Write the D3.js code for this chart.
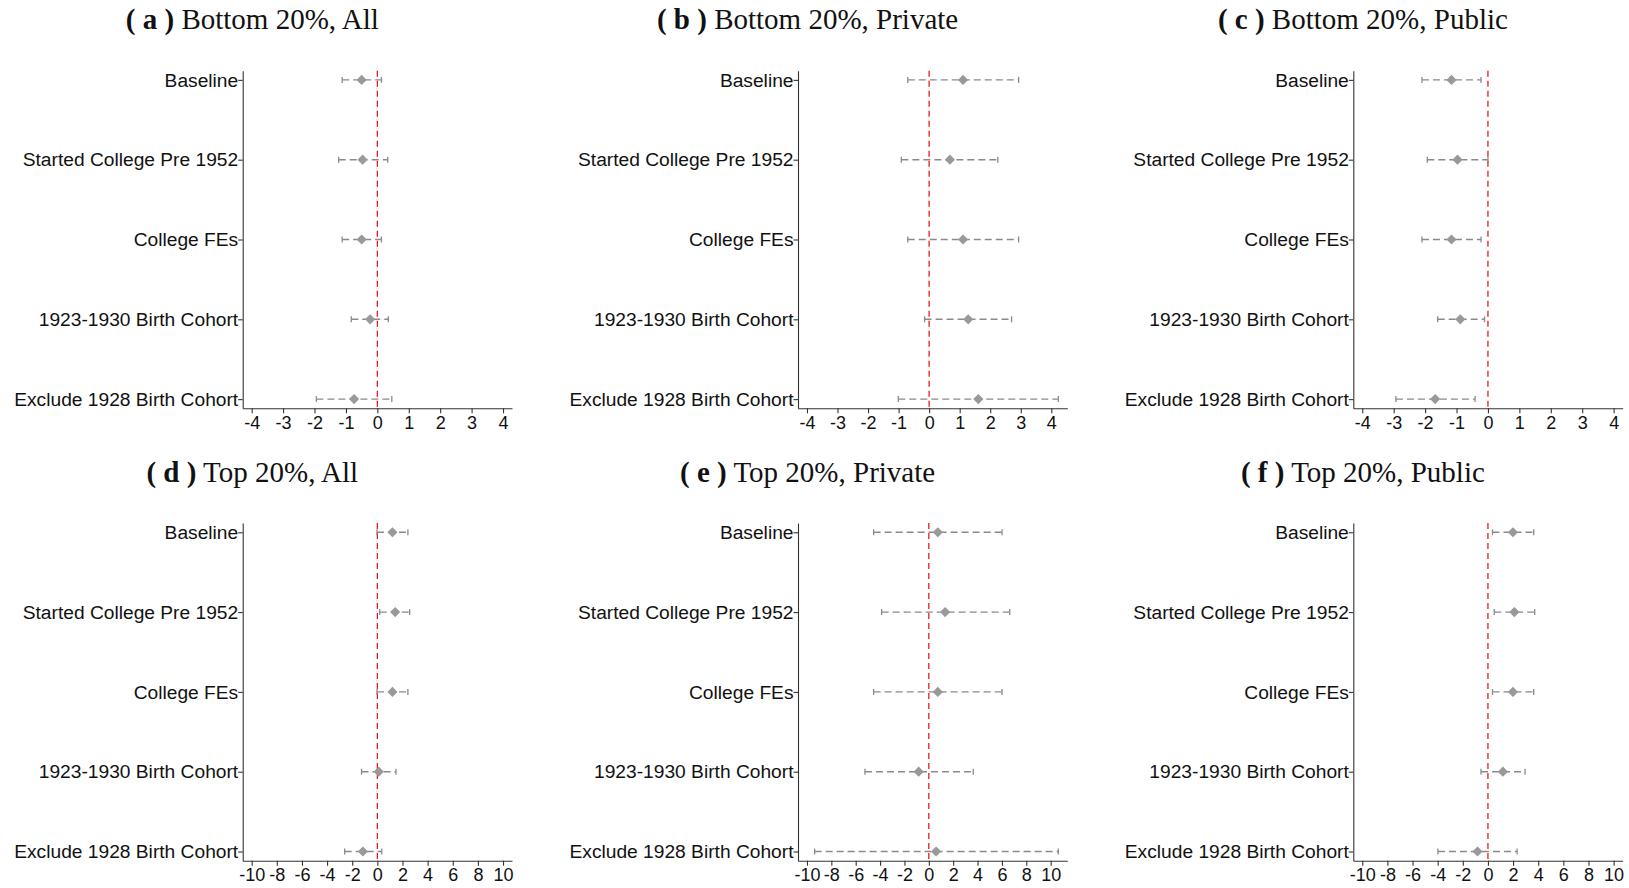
<!DOCTYPE html>
<html>
<head>
<meta charset="utf-8">
<script src="https://cdn.jsdelivr.net/npm/d3@7"></script>
<style>
  html, body { margin: 0; padding: 0; background: #fff; }
  svg { display: block; }
</style>
</head>
<body>
<svg id="chart" width="1629" height="888"></svg>
<script>
// Specifications, listed top to bottom on every panel
const categories = [
  "Baseline",
  "Started College Pre 1952",
  "College FEs",
  "1923-1930 Birth Cohort",
  "Exclude 1928 Birth Cohort"
];

// Panel headings
const panelLetters = ["a", "b", "c", "d", "e", "f"];
const panelTitles = [
  "Bottom 20%, All", "Bottom 20%, Private", "Bottom 20%, Public",
  "Top 20%, All", "Top 20%, Private", "Top 20%, Public"
];

// Point estimates and 95% confidence bounds, one array per panel
const estA = [-0.50, -0.47, -0.50, -0.23, -0.74];
const loA  = [-1.12, -1.23, -1.12, -0.83, -1.94];
const hiA  = [ 0.13,  0.33,  0.13,  0.35,  0.46];

const estB = [ 1.11,  0.68,  1.11,  1.28,  1.61];
const loB  = [-0.70, -0.91, -0.70, -0.15, -1.01];
const hiB  = [ 2.93,  2.25,  2.93,  2.70,  4.23];

const estC = [-1.16, -0.97, -1.16, -0.88, -1.68];
const loC  = [-2.10, -1.93, -2.10, -1.60, -2.93];
const hiC  = [-0.22,  0.00, -0.22, -0.11, -0.41];

const estD = [ 1.20,  1.42,  1.20,  0.11, -1.15];
const loD  = [-0.03,  0.19, -0.03, -1.26, -2.60];
const hiD  = [ 2.43,  2.57,  2.43,  1.48,  0.35];

const estE = [ 0.74,  1.34,  0.74, -0.83,  0.60];
const loE  = [-4.53, -3.87, -4.53, -5.24, -9.37];
const hiE  = [ 6.01,  6.64,  6.01,  3.65, 10.63];

const estF = [ 1.99,  2.10,  1.99,  1.19, -0.83];
const loF  = [ 0.36,  0.50,  0.36, -0.55, -3.98];
const hiF  = [ 3.64,  3.72,  3.64,  2.95,  2.32];

// x-axis tick labels for each row of panels
const ticksBottom20 = [-4, -3, -2, -1, 0, 1, 2, 3, 4];
const ticksTop20 = [-10, -8, -6, -4, -2, 0, 2, 4, 6, 8, 10];

const panels = [
  { est: estA, lo: loA, hi: hiA, ticks: ticksBottom20 },
  { est: estB, lo: loB, hi: hiB, ticks: ticksBottom20 },
  { est: estC, lo: loC, hi: hiC, ticks: ticksBottom20 },
  { est: estD, lo: loD, hi: hiD, ticks: ticksTop20 },
  { est: estE, lo: loE, hi: hiE, ticks: ticksTop20 },
  { est: estF, lo: loF, hi: hiF, ticks: ticksTop20 }
];

// Layout
const colStep = 555.3, rowStep = 452.4;
const plotLeft0 = 242.7, plotW = 269.3;
const plotTop0 = 70.7, plotH = 337.6;
const titleDx = 252.3, titleY0 = 29.3;

const axisColor = "#333";
const ciColor = "#8a8a8a";
const markColor = "#999999";
const refColor = "#f01818";
const labelFont = "'Liberation Sans', Arial, Helvetica, sans-serif";
const titleFont = "'Liberation Serif', 'Times New Roman', Times, serif";

const svg = d3.select("#chart");

panels.forEach((p, i) => {
  const col = i % 3, row = Math.floor(i / 3);
  const left = plotLeft0 + col * colStep;
  const top = plotTop0 + row * rowStep;
  const bottom = top + plotH;

  // axis range: nominal ticks extended to the data, with a small margin
  const tMin = d3.min(p.ticks), tMax = d3.max(p.ticks);
  const dMin = Math.min(tMin, d3.min(p.lo));
  const dMax = Math.max(tMax, d3.max(p.hi));
  const pad = (dMax - dMin) * 0.0357;
  const x = d3.scaleLinear().domain([dMin - pad, dMax + pad]).range([left, left + plotW]);
  const y = d3.scalePoint().domain(categories).range([top, bottom]).padding(0.115);

  const g = svg.append("g");

  // Title
  const title = g.append("text")
    .attr("x", col * colStep + titleDx)
    .attr("y", titleY0 + row * rowStep)
    .attr("text-anchor", "middle")
    .style("font-family", titleFont)
    .style("font-size", "29px")
    .attr("fill", "#111");
  title.append("tspan").style("font-weight", "bold").text(`( ${panelLetters[i]} )`);
  title.append("tspan").text(" " + panelTitles[i]);

  // x axis
  const xAxis = g.append("g")
    .attr("transform", `translate(0,${bottom})`)
    .call(d3.axisBottom(x).tickValues(p.ticks).tickSize(5).tickSizeOuter(0)
      .tickPadding(3).tickFormat(d => String(d)));
  xAxis.select(".domain").attr("stroke", axisColor).attr("stroke-width", 1.1);
  xAxis.selectAll(".tick line").attr("stroke", axisColor).attr("stroke-width", 1.1);
  xAxis.selectAll(".tick text")
    .style("font-family", labelFont).style("font-size", "18px").attr("fill", "#111");

  // y axis with specification labels
  const yAxis = g.append("g")
    .attr("transform", `translate(${left},0)`)
    .call(d3.axisLeft(y).tickSize(4.5).tickSizeOuter(0).tickPadding(0));
  yAxis.select(".domain").attr("stroke", axisColor).attr("stroke-width", 1.1);
  yAxis.selectAll(".tick line").attr("stroke", axisColor).attr("stroke-width", 1.1);
  yAxis.selectAll(".tick text")
    .style("font-family", labelFont).style("font-size", "19.2px").attr("fill", "#111");

  // reference line at zero
  g.append("line")
    .attr("x1", x(0)).attr("x2", x(0))
    .attr("y1", top).attr("y2", bottom)
    .attr("stroke", refColor).attr("stroke-width", 1.3)
    .attr("stroke-dasharray", "6,4");

  const rows = categories.map((c, k) => ({ c, est: p.est[k], lo: p.lo[k], hi: p.hi[k] }));

  // confidence intervals
  const ci = g.append("g").selectAll("g").data(rows).join("g");
  ci.append("line")
    .attr("x1", d => x(d.lo)).attr("x2", d => x(d.hi))
    .attr("y1", d => y(d.c)).attr("y2", d => y(d.c))
    .attr("stroke", ciColor).attr("stroke-width", 1.4)
    .attr("stroke-dasharray", "7,4");
  ["lo", "hi"].forEach(k => {
    ci.append("line")
      .attr("x1", d => x(d[k])).attr("x2", d => x(d[k]))
      .attr("y1", d => y(d.c) - 3).attr("y2", d => y(d.c) + 3)
      .attr("stroke", ciColor).attr("stroke-width", 1.3);
  });

  // point estimates
  const diamond = d3.symbol().type(d3.symbolDiamond2).size(66);
  g.append("g").selectAll("path").data(rows).join("path")
    .attr("d", diamond)
    .attr("transform", d => `translate(${x(d.est)},${y(d.c)})`)
    .attr("fill", markColor);
});
</script>
</body>
</html>
